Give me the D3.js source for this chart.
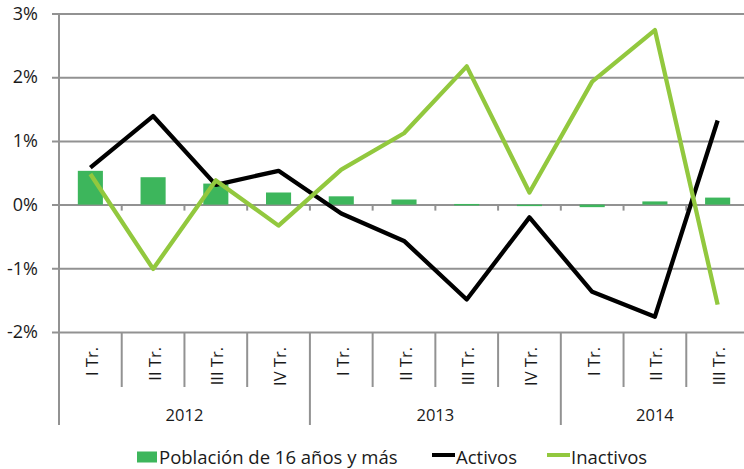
<!DOCTYPE html>
<html><head><meta charset="utf-8">
<script src="https://cdn.jsdelivr.net/npm/d3@7"></script>
<style>
html,body{margin:0;padding:0;background:#fff;}
svg{display:block;font-family:"Open Sans",sans-serif;}
</style></head>
<body><svg id="c" width="744" height="469"></svg>
<script>
const quarters = ["I Tr.","II Tr.","III Tr.","IV Tr.","I Tr.","II Tr.","III Tr.","IV Tr.","I Tr.","II Tr.","III Tr."];
const years = [{label:"2012", start:0, end:4},{label:"2013", start:4, end:8},{label:"2014", start:8, end:11}];
const poblacion = [0.53,0.43,0.33,0.19,0.13,0.08,0.01,-0.02,-0.04,0.05,0.11];
const activos = [0.58,1.39,0.31,0.53,-0.14,-0.57,-1.49,-0.20,-1.37,-1.76,1.32];
const inactivos = [0.48,-1.01,0.38,-0.33,0.55,1.12,2.17,0.19,1.93,2.74,-1.57];
const yTicks = [-2,-1,0,1,2,3];

const colBar = "#3DB65C", colAct = "#000000", colIna = "#92C83E", grid = "#929292";
const svg = d3.select("#c");
const L = 59, R = 749, T = 13.5, B = 332;
const x = d3.scaleBand().domain(d3.range(quarters.length)).range([L, R]).padding(0);
const y = d3.scaleLinear().domain([-2, 3]).range([B, T]);
const bw = x.bandwidth();

// gridlines & y labels
const yAxis = d3.axisLeft(y).tickValues(yTicks).tickSize(-(R - L)).tickFormat(d => d + "%");
const yg = svg.append("g").attr("transform", `translate(${L},0)`).call(yAxis);
yg.select(".domain").remove();
yg.selectAll(".tick line").attr("x1", -7).attr("stroke", grid).attr("stroke-width", 2);
yg.selectAll(".tick text").attr("x", -21).attr("font-size", 18).attr("fill", "#1a1a1a").attr("font-family", "Open Sans");

// bars
svg.append("g").selectAll("rect").data(poblacion).join("rect")
  .attr("x", (d, i) => x(i) + bw * 0.3)
  .attr("width", bw * 0.4)
  .attr("y", d => Math.min(y(d), y(0)))
  .attr("height", d => Math.max(1.5, Math.abs(y(d) - y(0))))
  .attr("fill", colBar);

// left axis line
svg.append("line").attr("x1", L).attr("x2", L).attr("y1", T).attr("y2", 425)
  .attr("stroke", grid).attr("stroke-width", 2);

// category separators
const bounds = d3.range(1, quarters.length + 1);
const yearBounds = new Set(years.map(d => d.end));
svg.append("g").selectAll("line").data(bounds).join("line")
  .attr("x1", k => L + bw * k).attr("x2", k => L + bw * k)
  .attr("y1", B).attr("y2", k => yearBounds.has(k) ? 425 : 387)
  .attr("stroke", grid).attr("stroke-width", 2);
// small ticks on 0 line
svg.append("g").selectAll("line").data(bounds).join("line")
  .attr("x1", k => L + bw * k).attr("x2", k => L + bw * k)
  .attr("y1", y(0)).attr("y2", y(0) + 6)
  .attr("stroke", grid).attr("stroke-width", 2);

// category labels
svg.append("g").selectAll("text").data(quarters).join("text")
  .attr("transform", (d, i) => `translate(${x(i) + bw / 2 + 1},347) rotate(-90)`)
  .attr("text-anchor", "end").attr("dominant-baseline", "central")
  .attr("font-size", 16.5).attr("fill", "#1a1a1a").text(d => d);

// year labels
svg.append("g").selectAll("text").data(years).join("text")
  .attr("x", d => (L + bw * d.start + L + bw * d.end) / 2)
  .attr("y", 421).attr("text-anchor", "middle")
  .attr("font-size", 16.5).attr("fill", "#1a1a1a").text(d => d.label);

// lines
const line = d3.line().x((d, i) => x(i) + bw / 2).y(d => y(d));
svg.append("path").datum(activos).attr("d", line).attr("fill", "none")
  .attr("stroke", colAct).attr("stroke-width", 4.3).attr("stroke-linejoin", "round");
svg.append("path").datum(inactivos).attr("d", line).attr("fill", "none")
  .attr("stroke", colIna).attr("stroke-width", 4.3).attr("stroke-linejoin", "round");

// legend
const lg = svg.append("g").attr("font-size", 18.5).attr("fill", "#1a1a1a");
lg.append("rect").attr("x", 137).attr("y", 451.5).attr("width", 20).attr("height", 11).attr("fill", colBar);
lg.append("text").attr("x", 159).attr("y", 464).text("Población de 16 años y más");
lg.append("line").attr("x1", 432).attr("x2", 455).attr("y1", 455).attr("y2", 455).attr("stroke", colAct).attr("stroke-width", 4);
lg.append("text").attr("x", 456).attr("y", 464).text("Activos");
lg.append("line").attr("x1", 547).attr("x2", 570).attr("y1", 455).attr("y2", 455).attr("stroke", colIna).attr("stroke-width", 4);
lg.append("text").attr("x", 571).attr("y", 464).text("Inactivos");
</script></body></html>
